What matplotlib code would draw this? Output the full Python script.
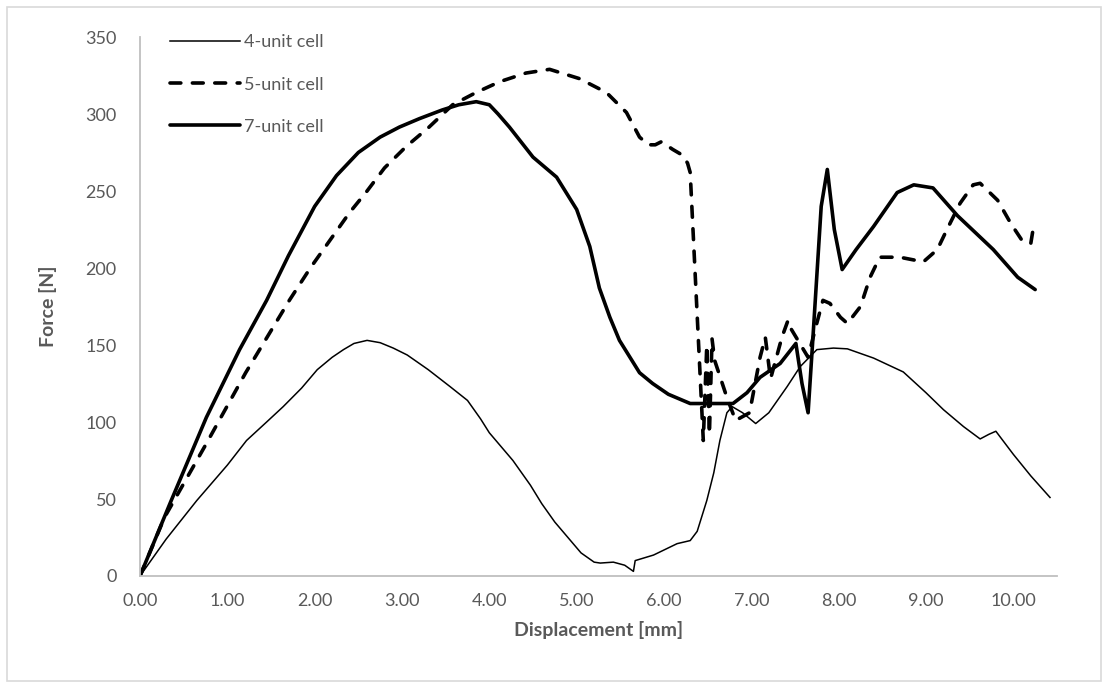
import matplotlib.pyplot as plt
from matplotlib.patches import Rectangle

# 4-unit cell (thin solid)
x4 = [0.00, 0.30, 0.65, 1.00, 1.22, 1.45, 1.64, 1.85, 2.03, 2.20, 2.33, 2.45, 2.60, 2.75, 2.90,
      3.06, 3.30, 3.55, 3.75, 3.90, 4.00, 4.15, 4.27, 4.47, 4.60, 4.75, 4.90, 5.05, 5.20, 5.27,
      5.42, 5.55, 5.65, 5.67, 5.88, 6.15, 6.30, 6.38, 6.49, 6.57, 6.64, 6.72, 6.78, 6.90, 7.05,
      7.20, 7.41, 7.56, 7.75, 7.94, 8.10, 8.40, 8.74, 9.00, 9.20, 9.43, 9.62, 9.72, 9.80, 10.00,
      10.20, 10.42]
y4 = [0, 24, 49, 72, 88, 100, 110, 122, 134, 142, 147, 151, 153, 151.5, 148,
      143.5, 134, 123, 114, 102, 93, 83, 75, 59, 47, 35, 25, 15, 9, 8.4,
      9, 7, 3, 10, 13.6, 21, 23, 29, 49, 67, 88, 106, 110, 106, 99,
      106, 123, 136, 147, 148, 147.5, 141.5, 132.5, 119, 108, 97, 89, 92, 94, 79,
      65, 51]

# 5-unit cell (dashed)
x5 = [0.00, 0.28, 0.76, 1.21, 1.71, 1.95, 2.20, 2.40, 2.60, 2.80, 3.05, 3.31, 3.58, 3.85, 4.12,
      4.42, 4.69, 5.03, 5.34, 5.57, 5.72, 5.82, 5.90, 5.97, 6.10, 6.22, 6.27, 6.30, 6.45, 6.49,
      6.52, 6.55, 6.58, 6.72, 6.82, 6.98, 7.10, 7.16, 7.22, 7.35, 7.42, 7.46, 7.65, 7.73, 7.82,
      7.90, 8.02, 8.10, 8.25, 8.36, 8.47, 8.70, 8.97, 9.13, 9.24, 9.39, 9.54, 9.62, 9.82, 9.97,
      10.11, 10.20, 10.24]
y5 = [0, 38, 86, 132, 179, 200, 220, 236, 250, 265, 279, 291.5, 306, 314, 321,
      326.6, 329, 323, 314, 301, 285, 280, 280, 282, 277, 273, 268, 262, 88, 150,
      92, 154, 140, 116, 101, 106, 142, 155, 128, 155, 166, 160, 142, 160, 179,
      177, 168, 164, 175, 194, 207, 207, 204, 212, 225, 242, 254, 255, 244, 229,
      217, 216, 230]

# 7-unit cell (thick solid)
x7 = [0.00, 0.35, 0.76, 1.14, 1.45, 1.70, 2.00, 2.25, 2.50, 2.75, 2.97, 3.20, 3.46, 3.65, 3.85,
      4.00, 4.10, 4.23, 4.50, 4.77, 5.00, 5.15, 5.26, 5.38, 5.49, 5.72, 5.87, 6.05, 6.30, 6.79,
      6.95, 7.10, 7.33, 7.51, 7.58, 7.65, 7.70, 7.80, 7.87, 7.95, 8.04, 8.20, 8.40, 8.67, 8.86,
      9.08, 9.36, 9.77, 10.05, 10.25]
y7 = [0, 48, 103, 147, 179, 208, 240, 260, 275, 285, 291.5, 297, 302.6, 306, 308,
      306, 300, 291.5, 272, 259, 238, 214, 187, 168, 153, 132, 125, 118, 112, 112,
      119, 129, 138, 151, 125, 106, 150, 240, 264, 225, 199, 212, 227, 249, 254,
      252, 234, 212, 194, 186]

x_ticks = [0, 1, 2, 3, 4, 5, 6, 7, 8, 9, 10]
y_ticks = [0, 50, 100, 150, 200, 250, 300, 350]

plt.rcParams['font.family'] = ['Lato', 'DejaVu Sans']
GRAY = '#595959'

fig = plt.figure(figsize=(11.08, 6.88), dpi=100)
ax = fig.add_axes([140 / 1108, 1 - 576 / 688, (1057 - 140) / 1108, (576 - 37) / 688])

ax.plot(x4, y4, color='black', lw=1.1, label='4-unit cell')
ax.plot(x5, y5, color='black', lw=2.6, linestyle=(0, (3.0, 3.2)), dash_capstyle='round',
        label='5-unit cell')
ax.plot(x7, y7, color='black', lw=2.6, solid_capstyle='round', solid_joinstyle='round',
        label='7-unit cell')

ax.set_xlim(0, 10.5)
ax.set_ylim(0, 350)
ax.set_xticks(x_ticks)
ax.set_xticklabels([f'{v:.2f}' for v in x_ticks])
ax.set_yticks(y_ticks)
ax.tick_params(length=0, labelsize=13, colors=GRAY, pad=12)
ax.tick_params(axis='y', pad=17)

for side in ['top', 'right']:
    ax.spines[side].set_visible(False)
ax.spines['left'].set_color('#BFBFBF')
ax.spines['bottom'].set_color('#BFBFBF')
ax.spines['left'].set_linewidth(1.3)
ax.spines['bottom'].set_linewidth(1.3)

ax.set_xlabel('Displacement [mm]', fontsize=14, fontweight='bold', color=GRAY, labelpad=9)
ax.set_ylabel('Force [N]', fontsize=14, fontweight='bold', color=GRAY, labelpad=20)

leg = ax.legend(loc='upper left', bbox_to_anchor=(0.015, 1.035), frameon=False, fontsize=13,
                handlelength=3.9, labelspacing=1.45, handletextpad=0.2)
for t in leg.get_texts():
    t.set_color(GRAY)

fig.patches.append(Rectangle((7 / 1108, 7 / 688), 1 - 14 / 1108, 1 - 14 / 688,
                             transform=fig.transFigure, fill=False, edgecolor='#D9D9D9', lw=1.2))

fig.savefig('out.png', dpi=100)
